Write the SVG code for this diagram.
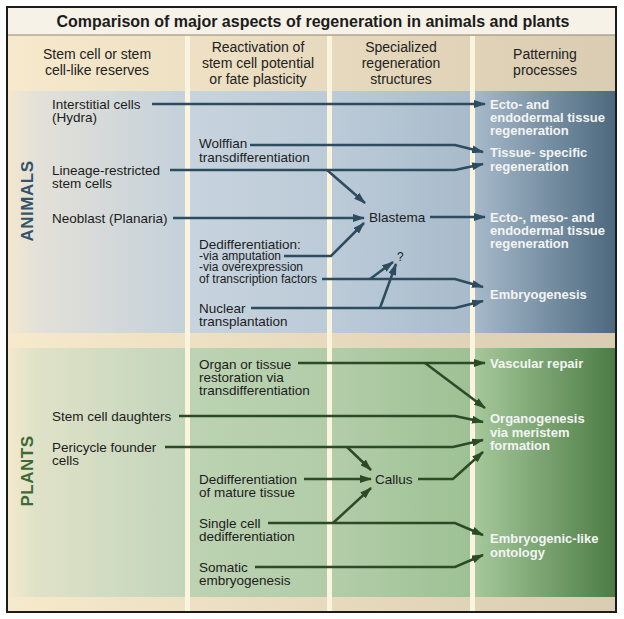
<svg xmlns="http://www.w3.org/2000/svg" width="624" height="619" viewBox="0 0 624 619">
<defs>
<linearGradient id="gBg" x1="0" y1="0" x2="1" y2="0"><stop offset="0" stop-color="#f7e9cb"/><stop offset="1" stop-color="#d9ccb2"/></linearGradient>
<linearGradient id="gA1" x1="0" y1="0" x2="1" y2="0"><stop offset="0" stop-color="#f4e8cf"/><stop offset="0.15" stop-color="#e4e1d8"/><stop offset="1" stop-color="#c4d1db"/></linearGradient>
<linearGradient id="gA2" x1="0" y1="0" x2="1" y2="0"><stop offset="0" stop-color="#c7d4df"/><stop offset="1" stop-color="#bccbd8"/></linearGradient>
<linearGradient id="gA3" x1="0" y1="0" x2="1" y2="0"><stop offset="0" stop-color="#bccbd8"/><stop offset="1" stop-color="#a8bbcb"/></linearGradient>
<linearGradient id="gA4" x1="0" y1="0" x2="1" y2="0"><stop offset="0" stop-color="#a6b9ca"/><stop offset="1" stop-color="#4d697f"/></linearGradient>
<linearGradient id="gP1" x1="0" y1="0" x2="1" y2="0"><stop offset="0" stop-color="#f4e9cd"/><stop offset="0.15" stop-color="#e0e2c8"/><stop offset="1" stop-color="#c2d5ba"/></linearGradient>
<linearGradient id="gP2" x1="0" y1="0" x2="1" y2="0"><stop offset="0" stop-color="#bdd3b3"/><stop offset="1" stop-color="#b2cca8"/></linearGradient>
<linearGradient id="gP3" x1="0" y1="0" x2="1" y2="0"><stop offset="0" stop-color="#b3cda9"/><stop offset="1" stop-color="#9dc194"/></linearGradient>
<linearGradient id="gP4" x1="0" y1="0" x2="1" y2="0"><stop offset="0" stop-color="#a6c89b"/><stop offset="1" stop-color="#4c7c45"/></linearGradient>
<marker id="aA" viewBox="0 0 12 8" refX="11" refY="4" markerWidth="12" markerHeight="8" markerUnits="userSpaceOnUse" orient="auto"><path d="M0,0 L12,4 L0,8 z" fill="#2e4b5f"/></marker>
<marker id="aP" viewBox="0 0 12 8" refX="11" refY="4" markerWidth="12" markerHeight="8" markerUnits="userSpaceOnUse" orient="auto"><path d="M0,0 L12,4 L0,8 z" fill="#2b4a26"/></marker>
<style>
text{font-family:"Liberation Sans",Arial,sans-serif;}
.t{font-size:13.5px;fill:#1c1c1c;}
.s{font-size:12px;fill:#1c1c1c;}
.h{font-size:14px;fill:#222;text-anchor:middle;}
.w{font-size:13px;font-weight:bold;fill:#f3f4f4;}
.ttl{font-size:16px;font-weight:bold;fill:#1c1c1c;text-anchor:middle;}
.sec{font-size:17px;font-weight:bold;text-anchor:middle;letter-spacing:0.5px;}
.ca{fill:none;stroke:#2e4b5f;stroke-width:2.5;marker-end:url(#aA);}
.cp{fill:none;stroke:#2b4a26;stroke-width:2.5;marker-end:url(#aP);}
.stripe{fill:#fbf4df;}
</style>
</defs>

<g id="frame">
<rect x="7" y="7" width="609" height="605" fill="url(#gBg)" stroke="#1c1c1c" stroke-width="2"/>
<rect x="8" y="8" width="607" height="27" fill="#f6f2e7"/>
<line x1="8" y1="35" x2="615" y2="35" stroke="#8f8672" stroke-width="1"/>
<rect x="8" y="91" width="177" height="242" fill="url(#gA1)"/>
<rect x="190" y="91" width="137" height="242" fill="url(#gA2)"/>
<rect x="332" y="91" width="138" height="242" fill="url(#gA3)"/>
<rect x="475" y="91" width="140" height="242" fill="url(#gA4)"/>
<rect x="8" y="348" width="177" height="249" fill="url(#gP1)"/>
<rect x="190" y="348" width="137" height="249" fill="url(#gP2)"/>
<rect x="332" y="348" width="138" height="249" fill="url(#gP3)"/>
<rect x="475" y="348" width="140" height="249" fill="url(#gP4)"/>
<rect class="stripe" x="185" y="36" width="5" height="575"/>
<rect class="stripe" x="327" y="36" width="5" height="575"/>
<rect class="stripe" x="470" y="36" width="5" height="575"/>
</g>

<g id="title"><text class="ttl" x="313" y="27">Comparison of major aspects of regeneration in animals and plants</text></g>

<g id="headers">
<text class="h" x="97" y="59">Stem cell or stem</text>
<text class="h" x="97" y="75">cell-like reserves</text>
<text class="h" x="258" y="52">Reactivation of</text>
<text class="h" x="258" y="68">stem cell potential</text>
<text class="h" x="258" y="84">or fate plasticity</text>
<text class="h" x="401" y="52">Specialized</text>
<text class="h" x="401" y="68">regeneration</text>
<text class="h" x="401" y="84">structures</text>
<text class="h" x="545" y="59">Patterning</text>
<text class="h" x="545" y="75">processes</text>
</g>

<g id="label-animals"><text class="sec" fill="#33546a" transform="translate(33,201) rotate(-90)">ANIMALS</text></g>
<g id="label-plants"><text class="sec" fill="#3c6a34" transform="translate(33,471) rotate(-90)">PLANTS</text></g>

<g id="connectors">
<path class="ca" d="M152,104 H485"/>
<path class="ca" d="M250,145 H455 L483,152"/>
<path class="ca" d="M170,170 H455 L483,164"/>
<path class="ca" d="M327,170 L365,203"/>
<path class="ca" d="M173,218 H364"/>
<path class="ca" d="M430,217 H485"/>
<path class="ca" d="M284,256 H331 L364,223"/>
<path class="ca" d="M322,279 H455 L483,287"/>
<path class="ca" d="M370,279 L393,262"/>
<path class="ca" d="M251,308 H455 L483,301"/>
<path class="ca" d="M380,308 L396,264"/>
<path class="cp" d="M298,363 H485"/>
<path class="cp" d="M425,363 L485,408"/>
<path class="cp" d="M179,416 H455 L483,422"/>
<path class="cp" d="M165,447 H453 L483,440"/>
<path class="cp" d="M347,447 L371,470"/>
<path class="cp" d="M304,479 H371"/>
<path class="cp" d="M418,479 H453 L483,452"/>
<path class="cp" d="M268,523 H455 L483,535"/>
<path class="cp" d="M333,523 L371,488"/>
<path class="cp" d="M255,567 H455 L483,555"/>
</g>

<g id="n-interstitial"><text class="t" x="52" y="109">Interstitial cells</text><text class="t" x="52" y="122">(Hydra)</text></g>
<g id="n-lineage"><text class="t" x="52" y="175">Lineage-restricted</text><text class="t" x="52" y="188">stem cells</text></g>
<g id="n-neoblast"><text class="t" x="52" y="223">Neoblast (Planaria)</text></g>
<g id="n-wolffian"><text class="t" x="199" y="148">Wolffian</text><text class="t" x="199" y="162">transdifferentiation</text></g>
<g id="n-dediff-animal"><text class="t" x="199" y="249">Dedifferentiation:</text><text class="s" x="199" y="260">-via amputation</text><text class="s" x="199" y="271">-via overexpression</text><text class="s" x="199" y="283">of transcription factors</text></g>
<g id="n-nuclear"><text class="t" x="199" y="313">Nuclear</text><text class="t" x="199" y="326">transplantation</text></g>
<g id="n-blastema"><text class="t" x="369" y="222">Blastema</text></g>
<g id="n-question"><text class="s" x="397" y="261">?</text></g>
<g id="n-ecto-endo"><text class="w" x="490" y="109">Ecto- and</text><text class="w" x="490" y="122">endodermal tissue</text><text class="w" x="490" y="135">regeneration</text></g>
<g id="n-tissue-specific"><text class="w" x="490" y="157">Tissue- specific</text><text class="w" x="490" y="171">regeneration</text></g>
<g id="n-ecto-meso"><text class="w" x="490" y="222">Ecto-, meso- and</text><text class="w" x="490" y="235">endodermal tissue</text><text class="w" x="490" y="248">regeneration</text></g>
<g id="n-embryogenesis"><text class="w" x="490" y="299">Embryogenesis</text></g>

<g id="n-stem-daughters"><text class="t" x="52" y="421">Stem cell daughters</text></g>
<g id="n-pericycle"><text class="t" x="52" y="452">Pericycle founder</text><text class="t" x="52" y="465">cells</text></g>
<g id="n-organ"><text class="t" x="199" y="369">Organ or tissue</text><text class="t" x="199" y="382">restoration via</text><text class="t" x="199" y="395">transdifferentiation</text></g>
<g id="n-dediff-mature"><text class="t" x="199" y="484">Dedifferentiation</text><text class="t" x="199" y="497">of mature tissue</text></g>
<g id="n-single"><text class="t" x="199" y="528">Single cell</text><text class="t" x="199" y="541">dedifferentiation</text></g>
<g id="n-somatic"><text class="t" x="199" y="572">Somatic</text><text class="t" x="199" y="585">embryogenesis</text></g>
<g id="n-callus"><text class="t" x="375" y="484">Callus</text></g>
<g id="n-vascular"><text class="w" x="490" y="368">Vascular repair</text></g>
<g id="n-organogenesis"><text class="w" x="490" y="423">Organogenesis</text><text class="w" x="490" y="437">via meristem</text><text class="w" x="490" y="450">formation</text></g>
<g id="n-embryogenic-like"><text class="w" x="490" y="543">Embryogenic-like</text><text class="w" x="490" y="557">ontology</text></g>
</svg>
